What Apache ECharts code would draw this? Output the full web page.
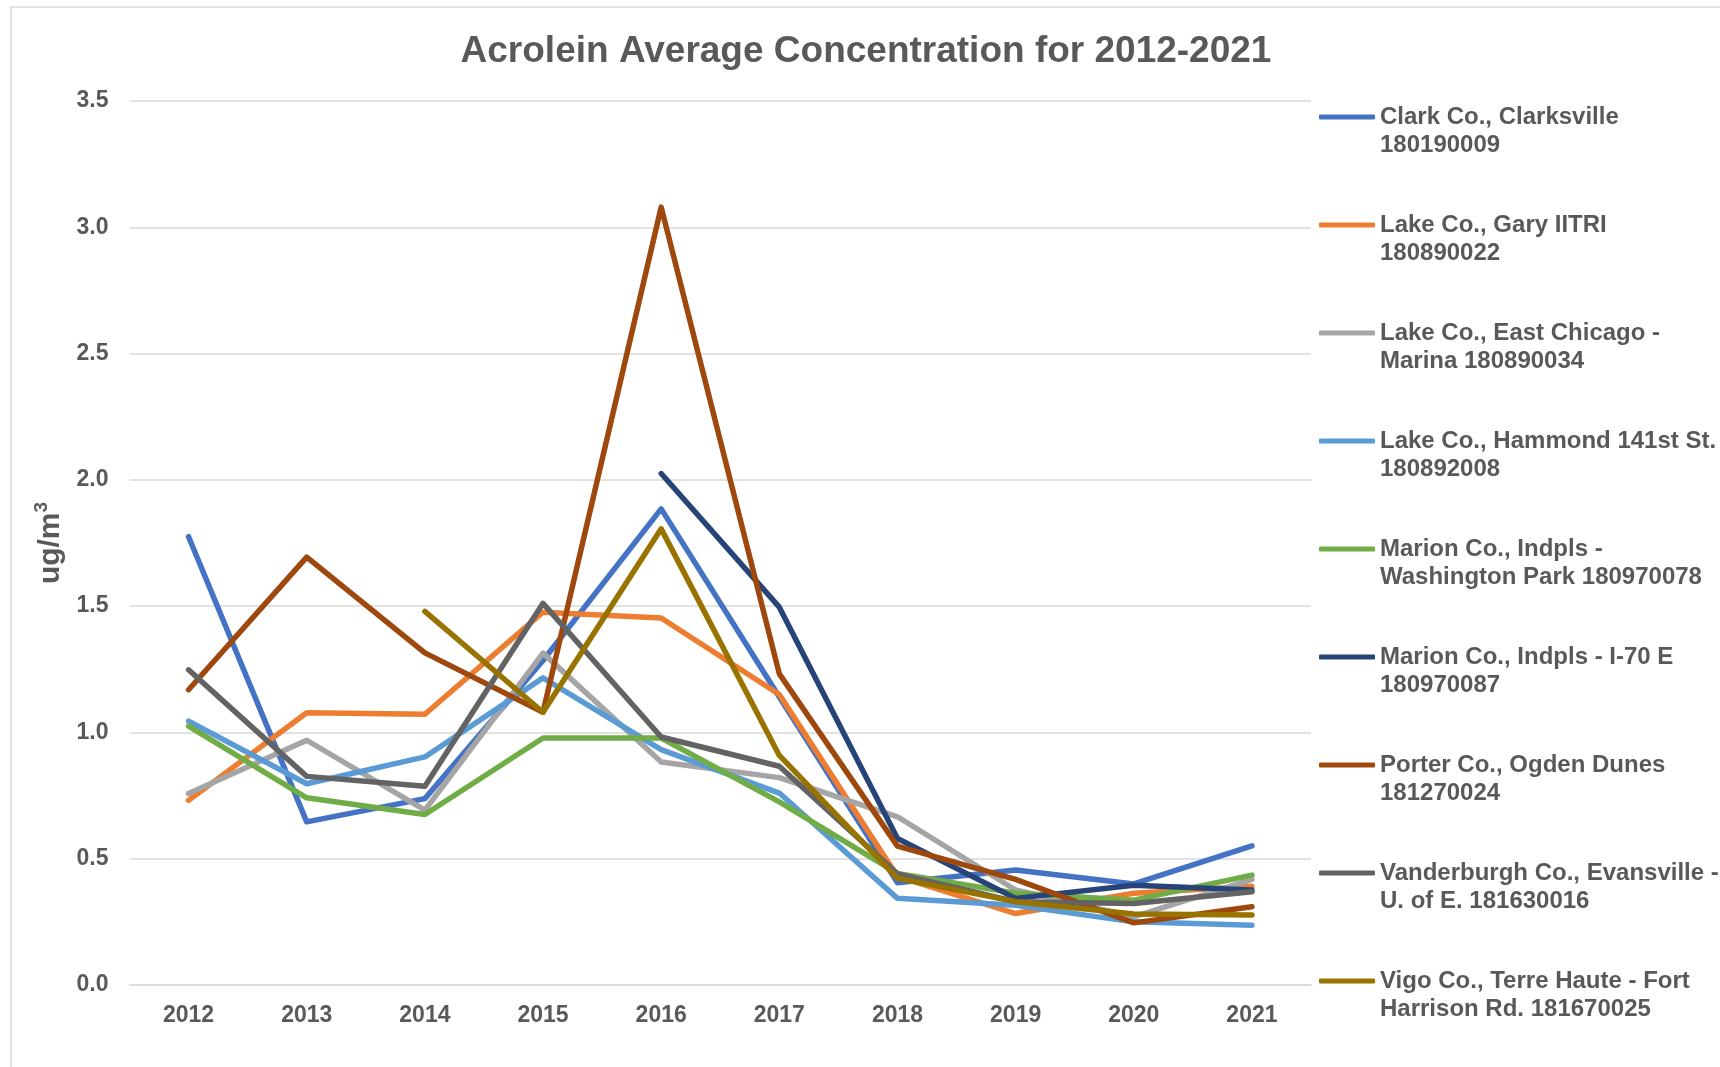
<!DOCTYPE html>
<html>
<head>
<meta charset="utf-8">
<title>Acrolein Average Concentration</title>
<script src="https://cdn.jsdelivr.net/npm/echarts@6/dist/echarts.min.js"></script>
<style>
  html, body { margin: 0; padding: 0; background: #fff; }
  #chart { width: 1720px; height: 1067px; }
</style>
</head>
<body>
<div id="chart"></div>
<script>
// data (ug/m3)
var years = ['2012', '2013', '2014', '2015', '2016', '2017', '2018', '2019', '2020', '2021'];
var yTicks = [0, 0.5, 1, 1.5, 2, 2.5, 3, 3.5];

var siteNames = [
    'Clark Co., Clarksville\n180190009',
    'Lake Co., Gary IITRI\n180890022',
    'Lake Co., East Chicago -\nMarina 180890034',
    'Lake Co., Hammond 141st St.\n180892008',
    'Marion Co., Indpls -\nWashington Park 180970078',
    'Marion Co., Indpls - I-70 E\n180970087',
    'Porter Co., Ogden Dunes\n181270024',
    'Vanderburgh Co., Evansville -\nU. of E. 181630016',
    'Vigo Co., Terre Haute - Fort\nHarrison Rd. 181670025'
];
var siteColors = ['#4472C4', '#ED7D31', '#A5A5A5', '#5B9BD5', '#70AD47', '#264478', '#9E480E', '#636363', '#997300'];

var clarkClarksville = [1.775, 0.646, 0.738, 1.285, 1.885, 1.14, 0.405, 0.455, 0.40, 0.551];
var lakeGary = [0.731, 1.078, 1.072, 1.476, 1.453, 1.15, 0.43, 0.283, 0.363, 0.391];
var lakeEastChicago = [0.758, 0.969, 0.692, 1.314, 0.883, 0.821, 0.666, 0.376, 0.27, 0.418];
var lakeHammond = [1.045, 0.797, 0.903, 1.216, 0.932, 0.760, 0.343, 0.316, 0.25, 0.237];
var marionWashington = [1.025, 0.741, 0.675, 0.978, 0.978, 0.725, 0.442, 0.363, 0.336, 0.435];
var marionI70 = [null, null, null, null, 2.025, 1.496, 0.58, 0.343, 0.395, 0.376];
var porterOgden = [1.169, 1.694, 1.315, 1.08, 3.08, 1.232, 0.55, 0.418, 0.246, 0.31];
var vanderburgh = [1.248, 0.826, 0.787, 1.511, 0.982, 0.866, 0.44, 0.33, 0.323, 0.369];
var vigoTerreHaute = [null, null, 1.479, 1.08, 1.806, 0.909, 0.422, 0.33, 0.281, 0.277];

var siteValues = [clarkClarksville, lakeGary, lakeEastChicago, lakeHammond, marionWashington,
    marionI70, porterOgden, vanderburgh, vigoTerreHaute];

var FONT = '"Liberation Sans", Arial, sans-serif';
var TXT = '#595959';
var GRID = '#d9d9d9';

var myChart = echarts.init(document.getElementById('chart'));

var series = [];
for (var i = 0; i < siteNames.length; i++) {
    series.push({
        name: siteNames[i],
        type: 'line',
        data: siteValues[i],
        symbol: 'none',
        smooth: false,
        color: siteColors[i],
        lineStyle: { width: 5.5, cap: 'round', join: 'round' },
        emphasis: { disabled: true }
    });
}

var option = {
    animation: false,
    backgroundColor: '#fff',
    textStyle: { fontFamily: FONT },
    title: {
        text: 'Acrolein Average Concentration for 2012-2021',
        left: 866,
        top: 33,
        padding: 0,
        textAlign: 'center',
        textStyle: { fontFamily: FONT, fontSize: 37, fontWeight: 'bold', color: TXT }
    },
    graphic: [{
        type: 'rect',
        shape: { x: 11, y: 7, width: 1800, height: 1200 },
        style: { fill: 'none', stroke: GRID, lineWidth: 1.5 },
        silent: true
    }],
    legend: {
        orient: 'vertical',
        left: 1319,
        top: 75,
        padding: 0,
        itemGap: 24,
        itemWidth: 56,
        itemHeight: 5,
        icon: 'roundRect',
        data: siteNames,
        // blank first line so the icon sits level with the first text line
        formatter: function (name) { return '\n' + name; },
        textStyle: {
            fontFamily: FONT, fontSize: 24, fontWeight: 'bold', color: TXT,
            lineHeight: 28
        }
    },
    grid: { left: 129.5, right: 409, top: 101, bottom: 82 },
    xAxis: {
        type: 'category',
        data: years,
        boundaryGap: true,
        axisLine: { show: true, lineStyle: { color: GRID, width: 1.5 } },
        axisTick: { show: false },
        axisLabel: { margin: 19, fontFamily: FONT, fontSize: 23, fontWeight: 'bold', color: TXT }
    },
    yAxis: {
        type: 'value',
        min: yTicks[0],
        max: yTicks[yTicks.length - 1],
        interval: 0.5,
        name: '{a|ug/m}{b|3}',
        nameLocation: 'middle',
        nameRotate: 90,
        nameGap: 51,
        nameTextStyle: {
            rich: {
                a: { fontFamily: FONT, fontSize: 30, fontWeight: 'bold', color: TXT, lineHeight: 36 },
                b: { fontFamily: FONT, fontSize: 19, fontWeight: 'bold', color: TXT, verticalAlign: 'top', lineHeight: 36 }
            }
        },
        axisLine: { show: false },
        axisTick: { show: false },
        splitLine: { lineStyle: { color: GRID, width: 1.5 } },
        axisLabel: {
            margin: 21,
            fontFamily: FONT, fontSize: 23, fontWeight: 'bold', color: TXT,
            formatter: function (v) { return v.toFixed(1); }
        }
    },
    series: series
};

myChart.setOption(option);
</script>
</body>
</html>
